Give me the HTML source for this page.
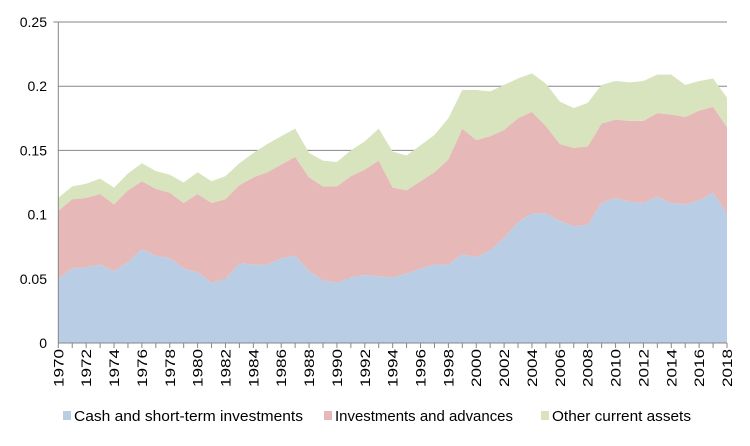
<!DOCTYPE html>
<html><head><meta charset="utf-8"><style>
html,body{margin:0;padding:0;background:#fff;}
svg{display:block;font-family:"Liberation Sans",sans-serif;}
</style></head><body>
<svg id="chart" width="750" height="446" viewBox="0 0 750 446" xmlns="http://www.w3.org/2000/svg">
<g id="grid"></g>
<g id="areas"></g>
<g id="axes"></g>
<g id="legend"></g>
</svg>
<script>
const years = [];
for (let y = 1970; y <= 2018; y++) years.push(y);
const cash = [0.050,0.058,0.059,0.061,0.056,0.063,0.073,0.068,0.066,0.058,0.055,0.047,0.050,0.062,0.061,0.061,0.066,0.068,0.056,0.049,0.047,0.051,0.053,0.052,0.051,0.054,0.058,0.061,0.061,0.069,0.067,0.072,0.082,0.094,0.101,0.101,0.095,0.091,0.092,0.109,0.113,0.110,0.109,0.114,0.109,0.108,0.111,0.117,0.101];
const investments = [0.053,0.054,0.054,0.055,0.052,0.056,0.053,0.052,0.051,0.051,0.061,0.062,0.062,0.061,0.068,0.072,0.073,0.077,0.073,0.073,0.075,0.079,0.082,0.090,0.070,0.065,0.068,0.072,0.082,0.098,0.091,0.089,0.084,0.081,0.079,0.068,0.060,0.061,0.061,0.062,0.061,0.063,0.064,0.065,0.069,0.068,0.070,0.067,0.067];
const other = [0.010,0.010,0.011,0.012,0.013,0.013,0.014,0.014,0.014,0.016,0.017,0.017,0.018,0.017,0.019,0.022,0.022,0.022,0.019,0.020,0.019,0.020,0.022,0.025,0.028,0.027,0.028,0.029,0.032,0.030,0.039,0.035,0.035,0.031,0.030,0.033,0.033,0.031,0.034,0.030,0.030,0.030,0.031,0.030,0.031,0.025,0.023,0.022,0.023];
const yTicks = [0, 0.05, 0.1, 0.15, 0.2, 0.25];
const yTickLabels = ["0","0.05","0.1","0.15","0.2","0.25"];
const seriesNames = ["Cash and short-term investments","Investments and advances","Other current assets"];

const NS = "http://www.w3.org/2000/svg";
const X0 = 58.3, X1 = 727, Y0 = 343, Y1 = 22;
const xScale = i => X0 + (X1 - X0) * i / (years.length - 1);
const yScale = v => Y0 - (Y0 - Y1) * v / 0.25;
function mk(tag, attrs, parent) { const e = document.createElementNS(NS, tag); for (const k in attrs) e.setAttribute(k, attrs[k]); parent.appendChild(e); return e; }

const grid = document.getElementById('grid');
yTicks.forEach((t, i) => {
  if (t > 0) {
    const l = mk('line', {x1: X0, x2: X1, y1: yScale(t), y2: yScale(t), stroke: '#868686', 'stroke-width': 1}, grid);
    
    
  }
  const tx = mk('text', {x: 47, y: yScale(t) + 5, 'text-anchor': 'end', 'font-size': 14, fill: '#000'}, grid);
  tx.textContent = yTickLabels[i];
  
  
});

const areas = document.getElementById('areas');
const colors = ['#b9cde5', '#e6b9b8', '#d7e4bd'];
const seriesList = [cash, investments, other];
let base = years.map(() => 0);
seriesList.forEach((s, si) => {
  const top = base.map((b, i) => b + s[i]);
  let d = '';
  top.forEach((v, i) => { d += (i ? 'L' : 'M') + xScale(i).toFixed(2) + ',' + yScale(v).toFixed(2); });
  for (let i = base.length - 1; i >= 0; i--) d += 'L' + xScale(i).toFixed(2) + ',' + yScale(base[i]).toFixed(2);
  d += 'Z';
  const p = mk('path', {d: d, fill: colors[si], stroke: 'none'}, areas);
  
  
  base = top;
});

const axes = document.getElementById('axes');
const ya = mk('line', {x1: X0, x2: X0, y1: Y1, y2: Y0, stroke: '#868686', 'stroke-width': 1}, axes);


const xa = mk('line', {x1: X0, x2: X1, y1: Y0, y2: Y0, stroke: '#868686', 'stroke-width': 1}, axes);


mk('line', {x1: X0 - 5, x2: X0, y1: Y1, y2: Y1, stroke: '#868686'}, axes);
years.forEach((yr, i) => {
  const x = xScale(i);
  mk('line', {x1: x, x2: x, y1: Y0, y2: Y0 + 5, stroke: '#868686'}, axes);
  if (i % 2 === 0) {
    const t = mk('text', {x: 0, y: 0, 'font-size': 14, fill: '#000', 'text-anchor': 'end', transform: 'translate(' + (x + 5) + ',349) rotate(-90)', textLength: 38, lengthAdjust: 'spacingAndGlyphs'}, axes);
    t.textContent = yr;
    
    
  }
});

const legend = document.getElementById('legend');
const lx = [63, 324, 541], tw = [229, 178, 139];
seriesNames.forEach((n, i) => {
  const g = mk('g', {}, legend);
  
  
  mk('rect', {x: lx[i], y: 411, width: 8, height: 9, fill: colors[i]}, g);
  const t = mk('text', {x: lx[i] + 11, y: 421, 'font-size': 15, fill: '#000', textLength: tw[i], lengthAdjust: 'spacingAndGlyphs'}, g);
  t.textContent = n;
});
</script>
</body></html>
